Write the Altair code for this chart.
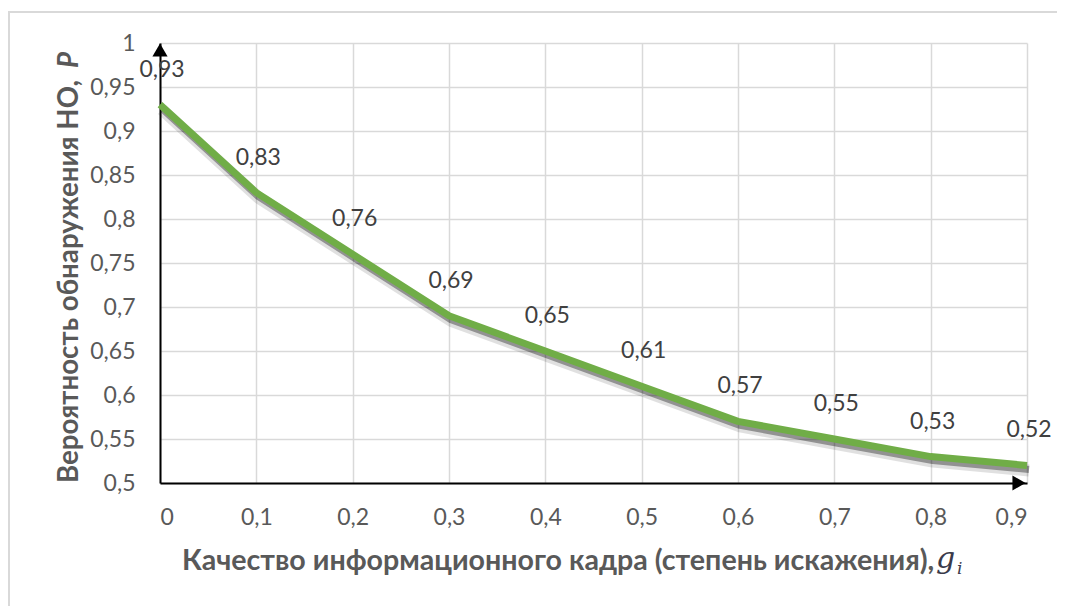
import altair as alt
import pandas as pd

# distortion degree g_i and detection probability P
quality = [0.0, 0.1, 0.2, 0.3, 0.4, 0.5, 0.6, 0.7, 0.8, 0.9]
probability = [0.93, 0.83, 0.76, 0.69, 0.65, 0.61, 0.57, 0.55, 0.53, 0.52]

x_ticks = [0.0, 0.1, 0.2, 0.3, 0.4, 0.5, 0.6, 0.7, 0.8, 0.9]
y_ticks = [0.5, 0.55, 0.6, 0.65, 0.7, 0.75, 0.8, 0.85, 0.9, 0.95, 1.0]

x_title = "Качество информационного кадра (степень искажения),"
y_title = "Вероятность обнаружения НО,"

FONT = "Lato"
GREEN = "#70ad47"
GREY_TXT = "#595959"

df = pd.DataFrame({"g": quality, "P": probability})
df["label"] = [f"{v:.2f}".rstrip("0").replace(".", ",") for v in probability]

comma_fmt = "replace(format(datum.value, '.2~f'), '.', ',')"

x_enc = alt.X("g:Q", scale=alt.Scale(domain=[0, 0.9], nice=False),
              axis=alt.Axis(values=x_ticks, labelExpr=comma_fmt, title=None,
                            grid=True, gridColor="#d9d9d9", gridWidth=1.5,
                            ticks=False, domainColor="black", domainWidth=2,
                            labelFont=FONT, labelFontSize=23, labelColor=GREY_TXT,
                            labelPadding=23))
y_enc = alt.Y("P:Q", scale=alt.Scale(domain=[0.5, 1.0], nice=False, zero=False),
              axis=alt.Axis(values=y_ticks, labelExpr=comma_fmt, title=None,
                            grid=True, gridColor="#d9d9d9", gridWidth=1.5,
                            ticks=False, domainColor="black", domainWidth=2,
                            labelFont=FONT, labelFontSize=23, labelColor=GREY_TXT,
                            labelPadding=25))

base = alt.Chart(df)

# soft drop shadow under the green line
shadow1 = base.mark_line(color="#000000", opacity=0.12, strokeWidth=12,
                         xOffset=2, yOffset=5, strokeJoin="round").encode(x=x_enc, y=y_enc)
shadow2 = base.mark_line(color="#000000", opacity=0.35, strokeWidth=7,
                         xOffset=2, yOffset=4, strokeJoin="round").encode(x="g:Q", y="P:Q")
line = base.mark_line(color=GREEN, strokeWidth=7, strokeJoin="round").encode(x="g:Q", y="P:Q")

labels = base.mark_text(font=FONT, fontSize=23, color="#404040", dy=-35, dx=2).encode(
    x="g:Q", y="P:Q", text="label:N")

# arrow heads on the axes
arrows = alt.Chart(pd.DataFrame({"g": [0.0], "P": [1.0]})).mark_point(
    shape="triangle-up", filled=True, color="black", opacity=1, size=230, yOffset=7
).encode(x="g:Q", y="P:Q")
arrows_r = alt.Chart(pd.DataFrame({"g": [0.9], "P": [0.5]})).mark_point(
    shape="triangle-right", filled=True, color="black", opacity=1, size=230, xOffset=-8
).encode(x="g:Q", y="P:Q")

one = alt.Chart(pd.DataFrame({"t": [0]}))
border = one.mark_rect(fill=None, stroke="#d9d9d9", strokeWidth=2).encode(
    x=alt.value(-151), y=alt.value(-31), x2=alt.value(1000), y2=alt.value(700))

xt = one.mark_text(font=FONT, fontSize=28.6, fontWeight="bold", color=GREY_TXT,
                   align="left", baseline="alphabetic").encode(
    x=alt.value(22), y=alt.value(527), text=alt.value(x_title))
xg = one.mark_text(font="DejaVu Serif", fontSize=30, fontStyle="italic", color="#3a3a4a",
                   align="left", baseline="alphabetic").encode(
    x=alt.value(776), y=alt.value(525), text=alt.value("g"))
xi = one.mark_text(font="DejaVu Serif", fontSize=17, fontStyle="italic", color="#3a3a4a",
                   align="left", baseline="alphabetic").encode(
    x=alt.value(797), y=alt.value(531), text=alt.value("i"))

yt = one.mark_text(font=FONT, fontSize=27.7, fontWeight="bold", color=GREY_TXT, angle=270,
                   align="right", baseline="alphabetic").encode(
    x=alt.value(-82), y=alt.value(37), text=alt.value(y_title))
yp = one.mark_text(font=FONT, fontSize=27.7, fontWeight="bold", fontStyle="italic",
                   color=GREY_TXT, angle=270, align="left", baseline="alphabetic").encode(
    x=alt.value(-82), y=alt.value(25), text=alt.value("P"))

chart = alt.layer(
    border, shadow1, shadow2, line, labels, arrows, arrows_r, xt, xg, xi, yt, yp
).properties(
    width=867, height=440,
    padding={"left": 152, "top": 35, "right": 30, "bottom": 123},
    autosize="none", background="white"
).configure_view(stroke=None)

chart.save("out.html", embed_options={"renderer": "svg", "actions": False})
